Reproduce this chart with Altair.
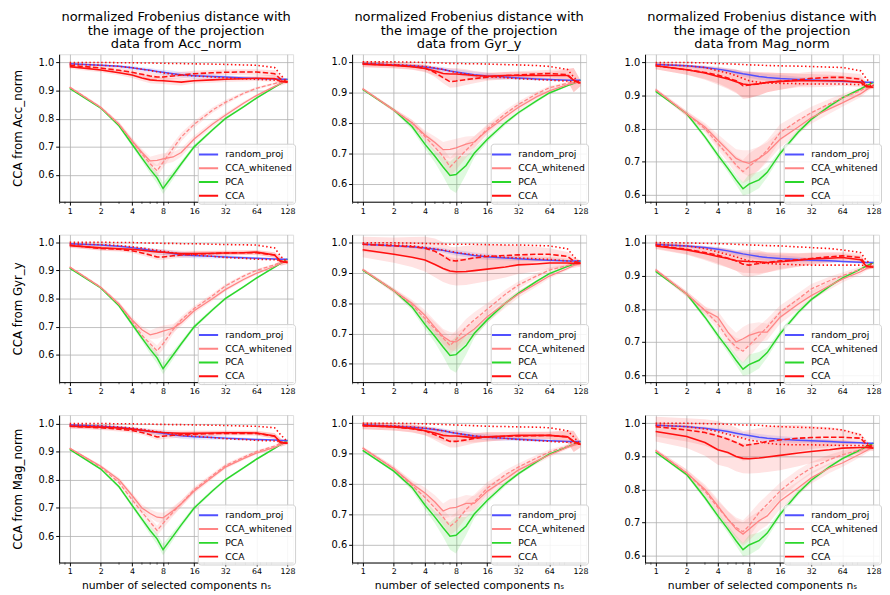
import altair as alt
import pandas as pd

# ---------------- data ----------------
X = [1, 2, 3, 4, 5, 6, 7, 8, 10, 12, 16, 24, 32, 48, 64, 96, 110, 128]

DATA_FROM = ["Acc_norm", "Gyr_y", "Mag_norm"]
CCA_FROM = ["Acc_norm", "Gyr_y", "Mag_norm"]
METHODS = ["random_proj", "CCA_whitened", "PCA", "CCA"]
COLORS = ["#5050ff", "#ff8585", "#2bd62b", "#ff1010"]

# random projection (depends on the data column)
RP_A = [0.995, 0.99, 0.986, 0.981, 0.976, 0.972, 0.968, 0.965, 0.96, 0.956, 0.953, 0.95, 0.948, 0.945, 0.943, 0.941, 0.94, 0.94]
RP_G = [0.995, 0.99, 0.987, 0.983, 0.979, 0.975, 0.97, 0.967, 0.962, 0.958, 0.954, 0.95, 0.947, 0.944, 0.942, 0.94, 0.94, 0.94]
RP_M = [0.994, 0.99, 0.985, 0.98, 0.975, 0.97, 0.966, 0.963, 0.958, 0.955, 0.952, 0.949, 0.947, 0.945, 0.943, 0.941, 0.94, 0.94]
RP_HW = [0.003, 0.004, 0.005, 0.006, 0.007, 0.008, 0.008, 0.009, 0.01, 0.01, 0.01, 0.008, 0.006, 0.005, 0.004, 0.003, 0.003, 0.002]

# PCA (depends on the data column)
PCA_A = [0.908, 0.838, 0.775, 0.71, 0.66, 0.62, 0.59, 0.552, 0.60, 0.64, 0.70, 0.76, 0.80, 0.842, 0.873, 0.912, 0.925, 0.94]
PCA_G = [0.91, 0.842, 0.788, 0.73, 0.69, 0.655, 0.627, 0.63, 0.66, 0.70, 0.745, 0.80, 0.833, 0.872, 0.898, 0.922, 0.93, 0.94]
PCA_M = [0.913, 0.845, 0.775, 0.72, 0.68, 0.645, 0.618, 0.632, 0.645, 0.668, 0.725, 0.79, 0.828, 0.868, 0.893, 0.92, 0.93, 0.94]
PCA_HW_A = [0.003, 0.004, 0.006, 0.008, 0.01, 0.015, 0.02, 0.02, 0.015, 0.01, 0.008, 0.006, 0.005, 0.004, 0.004, 0.003, 0.003, 0.003]
PCA_HW_G = [0.003, 0.005, 0.01, 0.015, 0.02, 0.03, 0.045, 0.06, 0.03, 0.015, 0.01, 0.008, 0.006, 0.005, 0.004, 0.003, 0.003, 0.003]
PCA_HW_M = [0.003, 0.005, 0.008, 0.01, 0.012, 0.015, 0.02, 0.03, 0.025, 0.015, 0.01, 0.008, 0.006, 0.005, 0.004, 0.003, 0.003, 0.003]

# panel rc: r = CCA from (row), c = data from (column)
# W = CCA_whitened solid, WD = CCA_whitened dashed, WHW = its band half width
# C = CCA solid, CD = CCA dashed, CU / CL = CCA dotted upper / lower, CHW = band half width
W_11 = [0.912, 0.84, 0.78, 0.722, 0.68, 0.65, 0.652, 0.657, 0.664, 0.68, 0.728, 0.78, 0.812, 0.855, 0.882, 0.915, 0.925, 0.935]
WD_11 = [0.912, 0.84, 0.78, 0.72, 0.675, 0.64, 0.615, 0.645, 0.695, 0.735, 0.78, 0.83, 0.858, 0.89, 0.908, 0.925, 0.93, 0.935]
WHW_11 = [0.004, 0.005, 0.008, 0.01, 0.012, 0.015, 0.02, 0.02, 0.018, 0.015, 0.012, 0.01, 0.008, 0.006, 0.005, 0.004, 0.004, 0.003]
C_11 = [0.985, 0.973, 0.963, 0.955, 0.945, 0.938, 0.936, 0.935, 0.932, 0.93, 0.935, 0.938, 0.94, 0.942, 0.944, 0.943, 0.932, 0.93]
CD_11 = [0.99, 0.98, 0.972, 0.965, 0.958, 0.952, 0.948, 0.948, 0.952, 0.955, 0.96, 0.963, 0.965, 0.966, 0.966, 0.96, 0.94, 0.93]
CU_11 = [1.0, 1.0, 0.999, 0.999, 0.998, 0.998, 0.997, 0.997, 0.996, 0.996, 0.995, 0.994, 0.993, 0.991, 0.99, 0.982, 0.955, 0.93]
CL_11 = [0.994, 0.99, 0.986, 0.981, 0.976, 0.971, 0.967, 0.963, 0.958, 0.955, 0.952, 0.948, 0.945, 0.942, 0.94, 0.937, 0.935, 0.93]
CHW_11 = [0.008, 0.008, 0.009, 0.01, 0.011, 0.012, 0.012, 0.012, 0.012, 0.012, 0.01, 0.01, 0.01, 0.01, 0.01, 0.012, 0.015, 0.005]

W_12 = [0.912, 0.842, 0.80, 0.76, 0.735, 0.712, 0.713, 0.718, 0.73, 0.737, 0.775, 0.82, 0.85, 0.885, 0.905, 0.925, 0.93, 0.935]
WD_12 = [0.912, 0.842, 0.80, 0.755, 0.72, 0.69, 0.655, 0.675, 0.71, 0.735, 0.78, 0.83, 0.86, 0.895, 0.915, 0.93, 0.933, 0.935]
WHW_12 = [0.004, 0.006, 0.01, 0.015, 0.02, 0.025, 0.03, 0.03, 0.025, 0.02, 0.015, 0.012, 0.01, 0.008, 0.006, 0.005, 0.005, 0.004]
C_12 = [0.992, 0.988, 0.984, 0.978, 0.97, 0.962, 0.96, 0.96, 0.958, 0.955, 0.953, 0.955, 0.955, 0.955, 0.955, 0.955, 0.94, 0.93]
CD_12 = [0.993, 0.99, 0.985, 0.98, 0.965, 0.948, 0.935, 0.937, 0.942, 0.945, 0.95, 0.955, 0.957, 0.96, 0.962, 0.958, 0.94, 0.93]
CU_12 = [1.0, 1.0, 0.999, 0.998, 0.997, 0.996, 0.995, 0.995, 0.994, 0.994, 0.993, 0.991, 0.99, 0.988, 0.985, 0.975, 0.95, 0.93]
CL_12 = [0.995, 0.991, 0.988, 0.985, 0.98, 0.975, 0.97, 0.965, 0.96, 0.956, 0.952, 0.948, 0.945, 0.942, 0.94, 0.937, 0.935, 0.93]
CHW_12 = [0.01, 0.01, 0.01, 0.012, 0.015, 0.018, 0.02, 0.02, 0.018, 0.015, 0.012, 0.012, 0.012, 0.012, 0.012, 0.02, 0.04, 0.01]

W_13 = [0.918, 0.845, 0.805, 0.765, 0.735, 0.71, 0.70, 0.695, 0.71, 0.728, 0.768, 0.805, 0.833, 0.86, 0.878, 0.905, 0.918, 0.932]
WD_13 = [0.918, 0.845, 0.80, 0.755, 0.72, 0.69, 0.67, 0.685, 0.71, 0.735, 0.788, 0.825, 0.848, 0.875, 0.893, 0.915, 0.925, 0.932]
WHW_13 = [0.005, 0.008, 0.012, 0.018, 0.022, 0.028, 0.035, 0.04, 0.035, 0.03, 0.025, 0.02, 0.018, 0.015, 0.012, 0.01, 0.008, 0.005]
C_13 = [0.99, 0.978, 0.968, 0.958, 0.95, 0.942, 0.935, 0.933, 0.936, 0.94, 0.943, 0.945, 0.945, 0.945, 0.945, 0.94, 0.927, 0.925]
CD_13 = [0.99, 0.978, 0.97, 0.962, 0.953, 0.945, 0.93, 0.932, 0.935, 0.94, 0.943, 0.948, 0.952, 0.955, 0.955, 0.95, 0.93, 0.925]
CU_13 = [1.0, 1.0, 0.999, 0.997, 0.996, 0.995, 0.994, 0.993, 0.992, 0.991, 0.99, 0.989, 0.988, 0.986, 0.985, 0.975, 0.95, 0.93]
CL_13 = [0.995, 0.99, 0.985, 0.975, 0.968, 0.96, 0.952, 0.945, 0.94, 0.938, 0.937, 0.936, 0.935, 0.935, 0.935, 0.933, 0.932, 0.93]
CHW_13 = [0.01, 0.015, 0.02, 0.025, 0.03, 0.035, 0.04, 0.04, 0.035, 0.03, 0.025, 0.02, 0.02, 0.018, 0.015, 0.015, 0.01, 0.005]

W_21 = [0.912, 0.84, 0.78, 0.725, 0.69, 0.672, 0.678, 0.685, 0.695, 0.715, 0.757, 0.80, 0.832, 0.868, 0.89, 0.915, 0.925, 0.935]
WD_21 = [0.912, 0.84, 0.78, 0.72, 0.67, 0.64, 0.615, 0.64, 0.69, 0.725, 0.765, 0.81, 0.845, 0.88, 0.90, 0.92, 0.93, 0.935]
WHW_21 = [0.004, 0.005, 0.008, 0.01, 0.012, 0.015, 0.02, 0.02, 0.015, 0.012, 0.01, 0.008, 0.007, 0.006, 0.005, 0.004, 0.004, 0.003]
C_21 = [0.988, 0.98, 0.977, 0.975, 0.972, 0.968, 0.966, 0.965, 0.962, 0.96, 0.96, 0.961, 0.962, 0.963, 0.965, 0.955, 0.932, 0.928]
CD_21 = [0.99, 0.978, 0.975, 0.97, 0.962, 0.955, 0.948, 0.948, 0.952, 0.955, 0.958, 0.96, 0.962, 0.963, 0.963, 0.955, 0.932, 0.928]
CU_21 = [1.0, 1.0, 0.999, 0.999, 0.998, 0.997, 0.997, 0.996, 0.996, 0.995, 0.995, 0.993, 0.992, 0.991, 0.99, 0.98, 0.95, 0.93]
CL_21 = [0.995, 0.992, 0.988, 0.984, 0.98, 0.975, 0.972, 0.968, 0.963, 0.958, 0.955, 0.95, 0.946, 0.943, 0.94, 0.938, 0.935, 0.93]
CHW_21 = [0.008, 0.008, 0.008, 0.008, 0.009, 0.01, 0.01, 0.01, 0.01, 0.01, 0.01, 0.009, 0.008, 0.008, 0.008, 0.01, 0.015, 0.005]

W_22 = [0.912, 0.842, 0.80, 0.76, 0.72, 0.69, 0.675, 0.672, 0.695, 0.715, 0.755, 0.80, 0.83, 0.865, 0.89, 0.915, 0.925, 0.932]
WD_22 = [0.912, 0.842, 0.795, 0.75, 0.715, 0.685, 0.66, 0.68, 0.72, 0.745, 0.78, 0.83, 0.86, 0.89, 0.91, 0.925, 0.93, 0.935]
WHW_22 = [0.005, 0.008, 0.012, 0.018, 0.022, 0.025, 0.03, 0.03, 0.028, 0.025, 0.02, 0.015, 0.012, 0.01, 0.008, 0.006, 0.005, 0.004]
C_22 = [0.977, 0.962, 0.952, 0.943, 0.928, 0.915, 0.907, 0.904, 0.905, 0.908, 0.913, 0.92, 0.927, 0.93, 0.933, 0.933, 0.932, 0.932]
CD_22 = [0.995, 0.99, 0.987, 0.982, 0.972, 0.957, 0.942, 0.94, 0.945, 0.95, 0.955, 0.958, 0.96, 0.962, 0.962, 0.955, 0.94, 0.932]
CU_22 = [1.0, 1.0, 0.999, 0.998, 0.997, 0.996, 0.995, 0.995, 0.995, 0.995, 0.994, 0.993, 0.993, 0.991, 0.99, 0.98, 0.955, 0.932]
CL_22 = [0.995, 0.993, 0.99, 0.985, 0.98, 0.976, 0.972, 0.968, 0.964, 0.96, 0.957, 0.952, 0.95, 0.947, 0.945, 0.94, 0.937, 0.932]
CHW_22 = [0.025, 0.028, 0.032, 0.038, 0.042, 0.045, 0.045, 0.045, 0.045, 0.043, 0.04, 0.035, 0.03, 0.025, 0.02, 0.015, 0.015, 0.01]

W_23 = [0.918, 0.845, 0.795, 0.775, 0.73, 0.70, 0.71, 0.72, 0.73, 0.73, 0.775, 0.815, 0.84, 0.87, 0.89, 0.912, 0.922, 0.93]
WD_23 = [0.918, 0.845, 0.795, 0.755, 0.71, 0.685, 0.672, 0.69, 0.72, 0.745, 0.79, 0.83, 0.86, 0.885, 0.90, 0.92, 0.925, 0.93]
WHW_23 = [0.005, 0.008, 0.012, 0.018, 0.022, 0.028, 0.035, 0.035, 0.03, 0.025, 0.02, 0.018, 0.015, 0.012, 0.01, 0.008, 0.006, 0.005]
C_23 = [0.99, 0.978, 0.967, 0.958, 0.952, 0.945, 0.944, 0.943, 0.942, 0.94, 0.942, 0.947, 0.951, 0.953, 0.955, 0.948, 0.928, 0.926]
CD_23 = [0.992, 0.98, 0.97, 0.962, 0.953, 0.945, 0.935, 0.932, 0.937, 0.94, 0.945, 0.948, 0.952, 0.957, 0.96, 0.955, 0.93, 0.926]
CU_23 = [1.0, 0.999, 0.998, 0.997, 0.996, 0.995, 0.994, 0.993, 0.992, 0.991, 0.99, 0.987, 0.985, 0.982, 0.978, 0.97, 0.945, 0.93]
CL_23 = [0.995, 0.99, 0.982, 0.972, 0.964, 0.957, 0.95, 0.945, 0.94, 0.937, 0.935, 0.933, 0.932, 0.932, 0.932, 0.932, 0.93, 0.928]
CHW_23 = [0.01, 0.015, 0.02, 0.025, 0.028, 0.03, 0.035, 0.035, 0.035, 0.03, 0.025, 0.02, 0.018, 0.015, 0.012, 0.012, 0.01, 0.005]

W_31 = [0.912, 0.848, 0.80, 0.745, 0.70, 0.68, 0.667, 0.665, 0.69, 0.715, 0.76, 0.81, 0.845, 0.875, 0.895, 0.915, 0.925, 0.935]
WD_31 = [0.912, 0.845, 0.79, 0.73, 0.685, 0.65, 0.62, 0.645, 0.685, 0.715, 0.765, 0.815, 0.85, 0.88, 0.90, 0.92, 0.93, 0.935]
WHW_31 = [0.004, 0.005, 0.008, 0.01, 0.012, 0.015, 0.018, 0.018, 0.015, 0.012, 0.01, 0.008, 0.007, 0.006, 0.005, 0.004, 0.004, 0.003]
C_31 = [0.99, 0.987, 0.984, 0.98, 0.976, 0.972, 0.97, 0.968, 0.966, 0.965, 0.965, 0.966, 0.967, 0.967, 0.966, 0.956, 0.932, 0.93]
CD_31 = [0.99, 0.985, 0.98, 0.975, 0.968, 0.96, 0.952, 0.955, 0.958, 0.96, 0.962, 0.964, 0.965, 0.965, 0.965, 0.955, 0.932, 0.93]
CU_31 = [1.0, 1.0, 0.999, 0.999, 0.998, 0.998, 0.997, 0.997, 0.996, 0.996, 0.995, 0.994, 0.993, 0.991, 0.99, 0.985, 0.96, 0.935]
CL_31 = [0.995, 0.992, 0.988, 0.984, 0.98, 0.975, 0.971, 0.968, 0.963, 0.958, 0.955, 0.95, 0.946, 0.943, 0.94, 0.938, 0.935, 0.93]
CHW_31 = [0.008, 0.008, 0.008, 0.008, 0.008, 0.009, 0.01, 0.01, 0.01, 0.01, 0.01, 0.009, 0.008, 0.008, 0.008, 0.01, 0.015, 0.005]

W_32 = [0.918, 0.85, 0.80, 0.77, 0.74, 0.71, 0.72, 0.722, 0.735, 0.735, 0.775, 0.815, 0.845, 0.875, 0.895, 0.92, 0.928, 0.935]
WD_32 = [0.918, 0.85, 0.795, 0.755, 0.72, 0.69, 0.66, 0.675, 0.715, 0.74, 0.785, 0.83, 0.855, 0.885, 0.905, 0.925, 0.93, 0.935]
WHW_32 = [0.005, 0.008, 0.012, 0.018, 0.022, 0.025, 0.03, 0.03, 0.028, 0.025, 0.02, 0.015, 0.012, 0.01, 0.008, 0.006, 0.005, 0.004]
C_32 = [0.992, 0.988, 0.983, 0.975, 0.968, 0.96, 0.958, 0.958, 0.955, 0.952, 0.955, 0.958, 0.96, 0.96, 0.96, 0.955, 0.94, 0.93]
CD_32 = [0.992, 0.988, 0.982, 0.975, 0.962, 0.95, 0.94, 0.94, 0.945, 0.95, 0.955, 0.957, 0.958, 0.959, 0.96, 0.955, 0.94, 0.93]
CU_32 = [1.0, 1.0, 0.999, 0.998, 0.997, 0.996, 0.995, 0.994, 0.993, 0.992, 0.99, 0.989, 0.988, 0.987, 0.985, 0.975, 0.955, 0.93]
CL_32 = [0.995, 0.992, 0.988, 0.984, 0.98, 0.975, 0.971, 0.967, 0.962, 0.958, 0.955, 0.95, 0.946, 0.943, 0.94, 0.937, 0.935, 0.93]
CHW_32 = [0.012, 0.012, 0.013, 0.015, 0.018, 0.02, 0.02, 0.02, 0.018, 0.016, 0.015, 0.013, 0.012, 0.012, 0.012, 0.02, 0.035, 0.01]

W_33 = [0.918, 0.85, 0.80, 0.75, 0.71, 0.68, 0.665, 0.68, 0.705, 0.72, 0.765, 0.805, 0.835, 0.865, 0.88, 0.908, 0.918, 0.93]
WD_33 = [0.918, 0.85, 0.795, 0.745, 0.71, 0.685, 0.672, 0.69, 0.73, 0.755, 0.795, 0.84, 0.865, 0.89, 0.905, 0.92, 0.928, 0.932]
WHW_33 = [0.005, 0.01, 0.015, 0.02, 0.025, 0.03, 0.035, 0.035, 0.03, 0.028, 0.025, 0.02, 0.018, 0.015, 0.012, 0.01, 0.008, 0.005]
C_33 = [0.975, 0.96, 0.942, 0.92, 0.912, 0.90, 0.894, 0.893, 0.895, 0.898, 0.903, 0.91, 0.915, 0.92, 0.925, 0.927, 0.927, 0.925]
CD_33 = [0.99, 0.98, 0.972, 0.962, 0.952, 0.942, 0.932, 0.935, 0.94, 0.945, 0.95, 0.955, 0.957, 0.958, 0.958, 0.955, 0.935, 0.925]
CU_33 = [1.0, 1.0, 0.999, 0.998, 0.997, 0.996, 0.995, 0.995, 0.994, 0.992, 0.99, 0.988, 0.987, 0.984, 0.98, 0.965, 0.94, 0.93]
CL_33 = [0.995, 0.99, 0.983, 0.975, 0.967, 0.96, 0.955, 0.95, 0.945, 0.94, 0.936, 0.935, 0.935, 0.934, 0.933, 0.933, 0.932, 0.93]
CHW_33 = [0.03, 0.035, 0.04, 0.045, 0.045, 0.045, 0.045, 0.045, 0.045, 0.045, 0.045, 0.04, 0.035, 0.03, 0.025, 0.015, 0.012, 0.008]

Y_MIN = [[0.505, 0.541, 0.579], [0.504, 0.539, 0.579], [0.506, 0.540, 0.579]]
Y_MAX = [[1.029, 1.025, 1.025], [1.027, 1.027, 1.024], [1.030, 1.027, 1.025]]

X_TICKS = [1, 2, 4, 8, 16, 32, 64, 128]
X_MINOR = [0.8, 0.9, 3, 5, 6, 7, 9, 20, 30, 40, 50, 60, 70, 80, 90]
Y_TICKS = [0.6, 0.7, 0.8, 0.9, 1.0]

# ---------------- assembly ----------------
RP_COL = [RP_A, RP_G, RP_M]
PCA_COL = [PCA_A, PCA_G, PCA_M]
PCA_HW_COL = [PCA_HW_A, PCA_HW_G, PCA_HW_M]
PANELS = {
    (0, 0): (W_11, WD_11, WHW_11, C_11, CD_11, CU_11, CL_11, CHW_11),
    (0, 1): (W_12, WD_12, WHW_12, C_12, CD_12, CU_12, CL_12, CHW_12),
    (0, 2): (W_13, WD_13, WHW_13, C_13, CD_13, CU_13, CL_13, CHW_13),
    (1, 0): (W_21, WD_21, WHW_21, C_21, CD_21, CU_21, CL_21, CHW_21),
    (1, 1): (W_22, WD_22, WHW_22, C_22, CD_22, CU_22, CL_22, CHW_22),
    (1, 2): (W_23, WD_23, WHW_23, C_23, CD_23, CU_23, CL_23, CHW_23),
    (2, 0): (W_31, WD_31, WHW_31, C_31, CD_31, CU_31, CL_31, CHW_31),
    (2, 1): (W_32, WD_32, WHW_32, C_32, CD_32, CU_32, CL_32, CHW_32),
    (2, 2): (W_33, WD_33, WHW_33, C_33, CD_33, CU_33, CL_33, CHW_33),
}
COLOR_OF = dict(zip(METHODS, COLORS))
FONT = "DejaVu Sans"
PW, PH = 238, 150


def panel(r, c):
    W, WD, WHW, C, CD, CU, CL, CHW = PANELS[(r, c)]
    xscale = alt.Scale(type="log", base=2, domain=[0.79, 145], nice=False)
    yscale = alt.Scale(domain=[Y_MIN[r][c], Y_MAX[r][c]], nice=False, zero=False)
    xaxis = alt.Axis(values=X_TICKS, format="d", labelFontSize=8, labelFont=FONT,
                     title="number of selected components nₛ" if r == 2 else None,
                     titleFontSize=11, titleFontWeight="normal", titleFont=FONT,
                     titleColor="#000", titlePadding=4,
                     grid=True, gridColor="#b0b0b0", gridWidth=0.8,
                     tickSize=3.5, tickColor="#000", domainColor="#000",
                     labelColor="#000", labelPadding=2)
    yaxis = alt.Axis(values=Y_TICKS, format=".1f", labelFontSize=10, labelFont=FONT,
                     title=("CCA from " + CCA_FROM[r]) if c == 0 else None,
                     titleFontSize=12, titleFontWeight="normal", titleFont=FONT,
                     titleColor="#000", titlePadding=14,
                     grid=True, gridColor="#b0b0b0", gridWidth=0.8,
                     tickSize=3.5, tickColor="#000", domainColor="#000",
                     labelColor="#000", labelPadding=2)

    bands = [
        ("PCA", PCA_COL[c], PCA_HW_COL[c], 0.15),
        ("random_proj", RP_COL[c], RP_HW, 0.15),
        ("CCA_whitened", W, WHW, 0.18),
        ("CCA_whitened", WD, WHW, 0.18),
        ("CCA", C, CHW, 0.12),
        ("CCA", CD, CHW, 0.12),
    ]
    lines = [
        ("PCA", PCA_COL[c], None, 1.5),
        ("CCA_whitened", W, None, 1.3),
        ("CCA_whitened", WD, [4, 2], 1.3),
        ("random_proj", RP_COL[c], None, 1.5),
        ("CCA", CU, [1.5, 2.5], 1.6),
        ("CCA", CL, [1.5, 2.5], 1.6),
        ("CCA", CD, [5.5, 2.4], 1.6),
        ("CCA", C, None, 1.6),
    ]
    layers = []
    for method, center, hw, op in bands:
        df = pd.DataFrame({"x": X,
                           "lo": [m - h for m, h in zip(center, hw)],
                           "hi": [m + h for m, h in zip(center, hw)]})
        layers.append(
            alt.Chart(df).mark_area(color=COLOR_OF[method], opacity=op, clip=True).encode(
                x=alt.X("x:Q", scale=xscale, axis=xaxis),
                y=alt.Y("lo:Q", scale=yscale, axis=yaxis),
                y2="hi:Q",
            )
        )
    # minor ticks of the x axis, placed from the x scale
    minor = pd.DataFrame({"x": X_MINOR})
    layers.append(
        alt.Chart(minor).mark_tick(color="#000", thickness=0.8, size=2.2, clip=False).encode(
            x=alt.X("x:Q", scale=xscale, axis=xaxis),
            y=alt.value(PH + 1.1),
        )
    )
    color_scale = alt.Scale(domain=METHODS, range=COLORS)
    for i, (method, vals, dash, sw) in enumerate(lines):
        df = pd.DataFrame({"x": X, "y": vals, "method": [method] * len(X)})
        if i == 0:
            legend = alt.Legend(title=None, orient="bottom-right", offset=-2,
                                fillColor="rgba(255,255,255,0.85)", strokeColor="#d0d0d0",
                                padding=3, cornerRadius=3, labelFont=FONT, labelFontSize=9.4,
                                labelColor="#000", symbolType="M-1.45,0H1.45",
                                symbolStrokeWidth=2, symbolSize=180, rowPadding=1,
                                labelOffset=9, symbolDash=[1, 0])
        else:
            legend = None
        if dash is None:
            mk = alt.Chart(df).mark_line(strokeWidth=sw, clip=True)
        else:
            mk = alt.Chart(df).mark_line(strokeWidth=sw, clip=True, strokeDash=dash)
        layers.append(
            mk.encode(
                x=alt.X("x:Q", scale=xscale, axis=xaxis),
                y=alt.Y("y:Q", scale=yscale, axis=yaxis),
                color=alt.Color("method:N", scale=color_scale, legend=legend),
            )
        )
    ch = alt.layer(*layers).properties(width=PW, height=PH)
    if r == 0:
        ch = ch.properties(title=alt.TitleParams(
            text=["normalized Frobenius distance with", "the image of the projection",
                  "data from " + DATA_FROM[c]],
            fontSize=13.2, fontWeight="normal", font=FONT, color="#000",
            anchor="middle", offset=0, dy=-3, lineHeight=13.8))
    return ch


rows = []
for r in range(3):
    row = alt.hconcat(*[panel(r, c) for c in range(3)], spacing=35).resolve_scale(
        color="independent", x="independent", y="independent").resolve_legend(color="independent")
    rows.append(row)

chart = alt.vconcat(*rows, spacing=18.5).resolve_scale(
    color="independent", x="independent", y="independent").resolve_legend(
    color="independent").properties(padding={"left": 3, "top": -4, "right": 0, "bottom": 0}
).configure_view(stroke="#000", strokeWidth=0.8).configure(font=FONT)

chart.save("out.html", embed_options={"renderer": "svg", "actions": False})
